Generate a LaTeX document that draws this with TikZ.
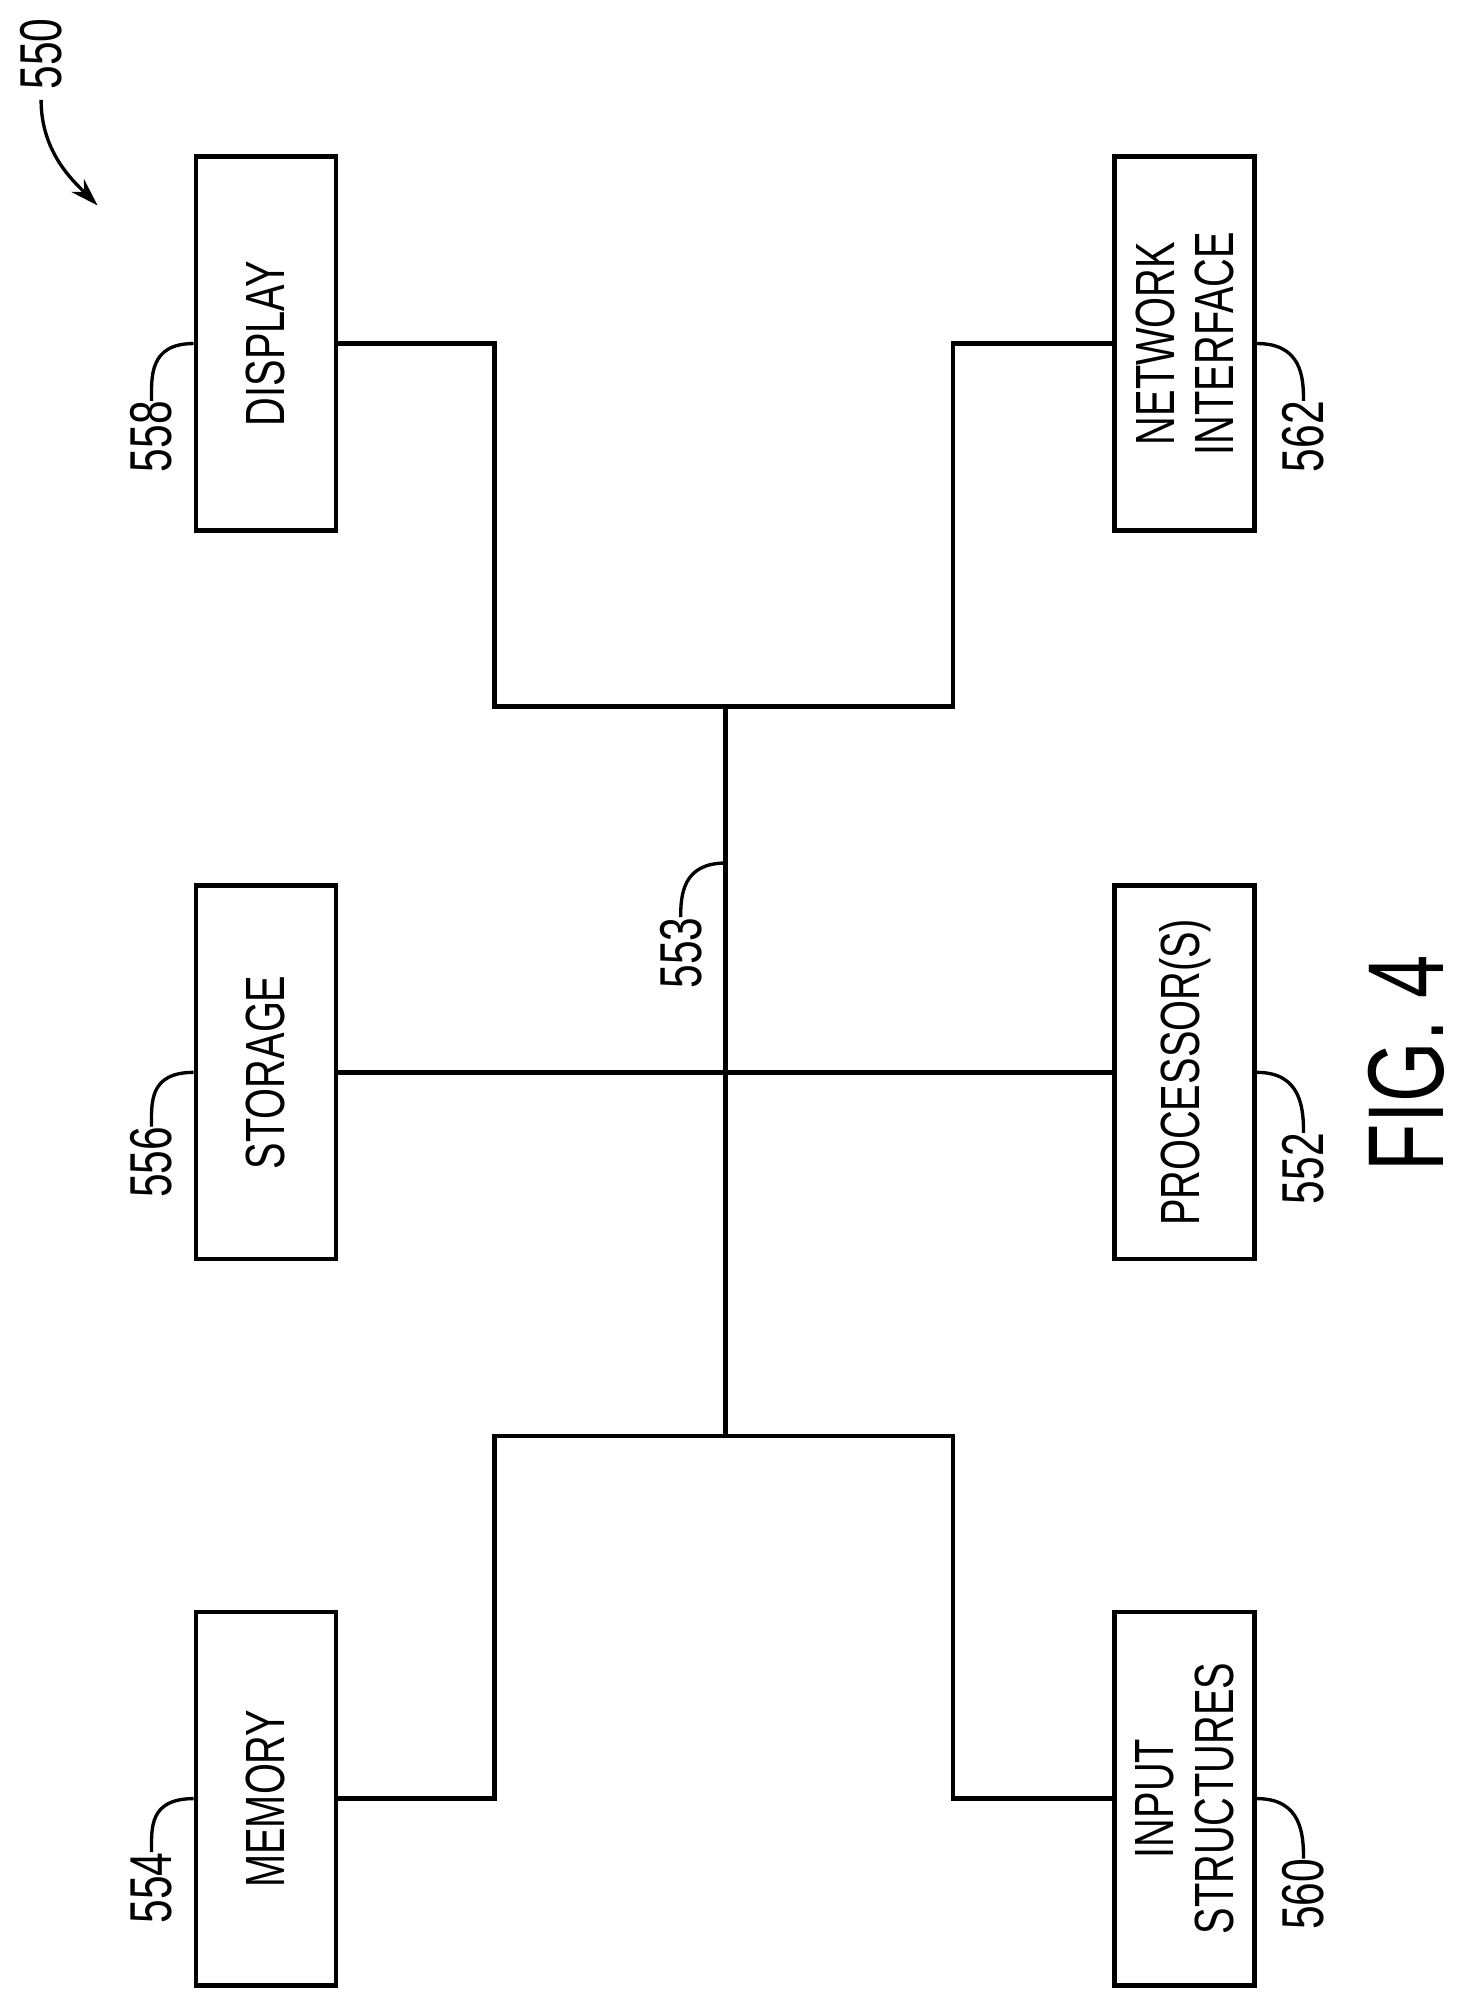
\documentclass[tikz,border=0pt]{standalone}
\usepackage{fontspec}
\usetikzlibrary{arrows.meta}
\setmainfont{Liberation Sans}[FakeStretch=0.72]
\begin{document}
\begin{tikzpicture}[x=1pt,y=1pt,
  box/.style={draw,line width=3.5pt,rotate=90,minimum width=291,minimum height=109,inner sep=0,align=center,font=\fontsize{43}{46}\selectfont},
  wire/.style={line width=3.5pt},
  lead/.style={line width=2.6pt},
  num/.style={rotate=90,inner sep=0,font=\fontsize{46}{50}\selectfont}]
\useasboundingbox (0,0) rectangle (1140,-1562);
\node[box] (disp) at (207,-267.5) {DISPLAY};
\node[box] (net) at (922.5,-267.5) {NETWORK\\INTERFACE};
\node[box] (sto) at (207,-835) {STORAGE};
\node[box] (proc) at (922.5,-835) {PROCESSOR(S)};
\node[box] (mem) at (207,-1400.5) {MEMORY};
\node[box] (inp) at (922.5,-1400.5) {INPUT\\STRUCTURES};
\coordinate (tl) at (385,-550);
\coordinate (tr) at (742,-550);
\coordinate (bt) at (565,-550);
\coordinate (bb) at (565,-1118);
\coordinate (bl) at (385,-1118);
\coordinate (br) at (742,-1118);
\draw[wire] (disp.south) -| (tl) -- (tr) |- (net.north);
\draw[wire] (mem.south) -| (bl) -- (br) |- (inp.north);
\draw[wire] (bt) -- (bb);
\draw[wire] (sto.south) -- (proc.north);
% labels
\node[num] (n558) at (118,-340) {558};
\node[num] (n556) at (118,-905) {556};
\node[num] (n554) at (118,-1470) {554};
\node[num] (n562) at (1015,-340) {562};
\node[num] (n552) at (1015,-910) {552};
\node[num] (n560) at (1015,-1475) {560};
\node[num] (n553) at (530,-742) {553};
\node[num] (n550) at (32,-42) {550};
\node[rotate=90,inner sep=0,font=\fontsize{84}{90}\selectfont] (fig) at (1095,-828) {FIG. 4};
\coordinate (bus) at (565,-672);
\coordinate (tip) at (76,-160);
\draw[lead] (disp.north) .. controls +(-35,0) and +(0,18) .. (n558.east);
\draw[lead] (sto.north) .. controls +(-35,0) and +(0,18) .. (n556.east);
\draw[lead] (mem.north) .. controls +(-35,0) and +(0,18) .. (n554.east);
\draw[lead] (net.south) .. controls +(35,0) and +(0,18) .. (n562.east);
\draw[lead] (proc.south) .. controls +(35,0) and +(0,18) .. (n552.east);
\draw[lead] (inp.south) .. controls +(35,0) and +(0,18) .. (n560.east);
\draw[lead] (bus) .. controls +(-33,0) and +(0,18) .. (n553.east);
\draw[lead,-{Stealth[length=22pt,width=14pt]}] ([yshift=-8pt]n550.west) .. controls +(0,-40) and +(-20,20) .. (tip);
\end{tikzpicture}
\end{document}
